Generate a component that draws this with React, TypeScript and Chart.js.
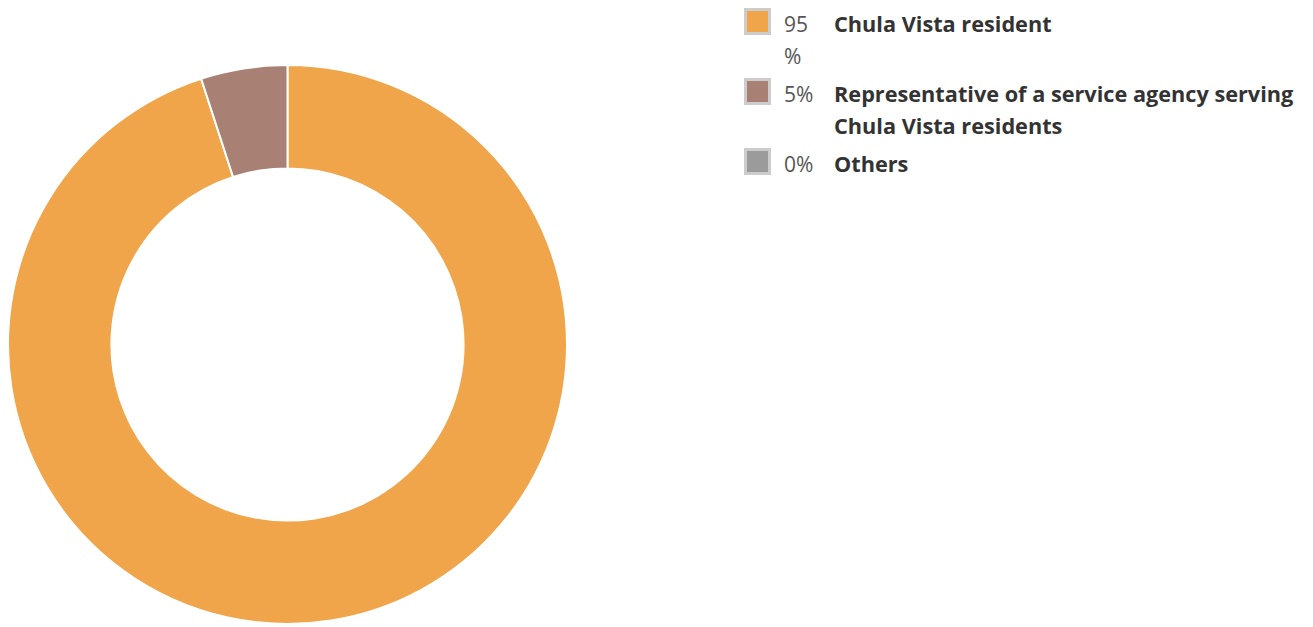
import React, { useEffect, useRef } from "react";
import { Chart, registerables } from "chart.js";

Chart.register(...registerables);

const categories = [
  "Chula Vista resident",
  "Representative of a service agency serving Chula Vista residents",
  "Others",
];
const values = [95, 5, 0];
const percentLabels = ["95%", "5%", "0%"];
const colors = ["#F0A54A", "#A88074", "#9B9B9B"];

export default function App() {
  const canvasRef = useRef<HTMLCanvasElement | null>(null);

  useEffect(() => {
    if (!canvasRef.current) return;
    const chart = new Chart(canvasRef.current, {
      type: "doughnut",
      data: {
        labels: categories,
        datasets: [
          {
            data: values,
            backgroundColor: colors,
            borderColor: "#ffffff",
            borderWidth: 2,
            hoverOffset: 0,
          },
        ],
      },
      options: {
        animation: false,
        responsive: true,
        maintainAspectRatio: false,
        cutout: "63%",
        layout: { padding: 0 },
        plugins: {
          legend: { display: false },
          tooltip: { enabled: false },
        },
      },
    });
    return () => chart.destroy();
  }, []);

  return (
    <div
      style={{
        display: "flex",
        flexDirection: "row",
        alignItems: "flex-start",
        height: 619,
        fontFamily: "'Open Sans', sans-serif",
      }}
    >
      <div
        style={{
          width: 561,
          height: 561,
          marginLeft: -1,
          marginTop: 56,
          position: "relative",
          flex: "0 0 auto",
        }}
      >
        <canvas ref={canvasRef} />
      </div>
      <div style={{ marginLeft: 176, marginTop: 0, flex: "0 0 auto" }}>
        {categories.map((c, i) => (
          <div
            key={c}
            style={{
              display: "flex",
              alignItems: "flex-start",
              marginBottom: 6,
              fontSize: 21,
              lineHeight: "32px",
            }}
          >
            <div
              style={{
                width: 21,
                height: 21,
                border: "3px solid #cccccc",
                background: colors[i],
                marginTop: 0,
                flex: "0 0 auto",
              }}
            />
            <div
              style={{
                width: 30,
                marginLeft: 13,
                color: "#555",
                overflowWrap: "anywhere",
                flex: "0 0 auto",
              }}
            >
              {percentLabels[i]}
            </div>
            <div
              style={{
                marginLeft: 20,
                width: 470,
                fontWeight: 700,
                fontSize: 21.7,
                color: "#333",
              }}
            >
              {c}
            </div>
          </div>
        ))}
      </div>
    </div>
  );
}
